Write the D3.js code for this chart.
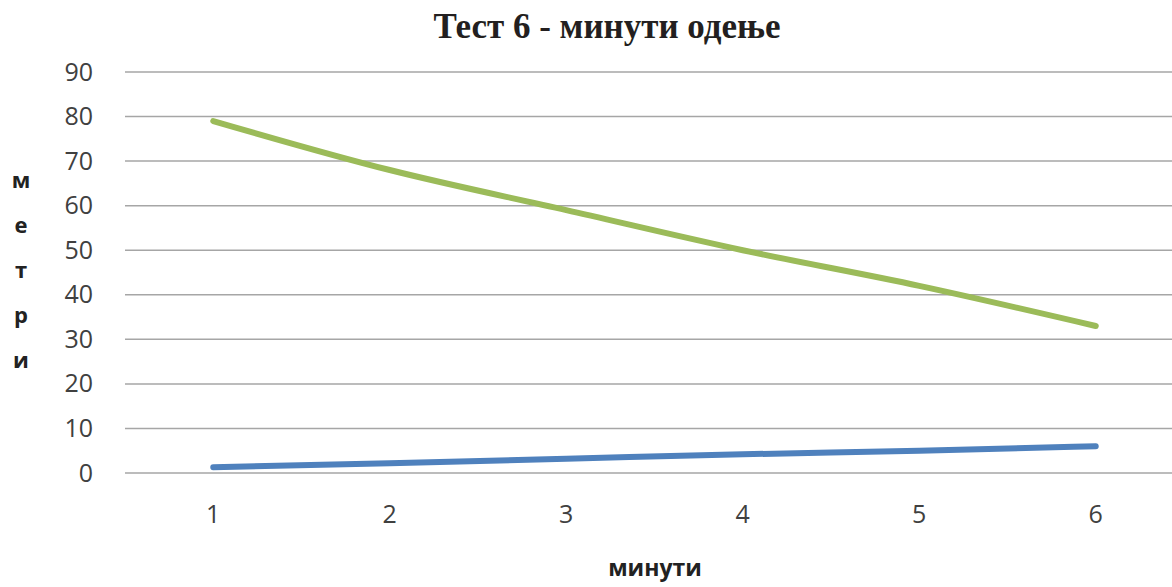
<!DOCTYPE html>
<html><head><meta charset="utf-8">
<script src="https://cdn.jsdelivr.net/npm/d3@7"></script>
<style>body{margin:0;background:#fff}</style>
</head><body>
<svg id="c" width="1172" height="587"></svg>
<script>
const categories = [1, 2, 3, 4, 5, 6];
const greenValues = [79, 68, 59, 50, 42, 33];
const blueValues = [1.3, 2.2, 3.2, 4.2, 5, 6];
const yTicks = [0, 10, 20, 30, 40, 50, 60, 70, 80, 90];
const title = "Тест 6 - минути одење";
const xTitle = "минути";
const yTitleLetters = ["м", "е", "т", "р", "и"];

const svg = d3.select("#c");
const x = d3.scaleBand().domain(categories).range([125, 1184]);
const y = d3.scaleLinear().domain([0, 90]).range([473, 72]);

svg.append("g").selectAll("line").data(yTicks).join("line")
  .attr("x1", 125).attr("x2", 1172)
  .attr("y1", d => y(d)).attr("y2", d => y(d))
  .attr("stroke", "#a6a6a6").attr("stroke-width", 1.5);

const yAxis = d3.axisLeft(y).tickValues(yTicks).tickSize(0).tickPadding(0);
const gy = svg.append("g").attr("transform", "translate(93,0)").call(yAxis);
gy.select(".domain").remove();
gy.selectAll("text").attr("font-family", "'Open Sans', sans-serif").attr("font-size", 25).attr("fill", "#404040");

const xAxis = d3.axisBottom(x).tickSize(0).tickPadding(0);
const gx = svg.append("g").attr("transform", "translate(0,505)").call(xAxis);
gx.select(".domain").remove();
gx.selectAll("text").attr("font-family", "'Open Sans', sans-serif").attr("font-size", 25).attr("fill", "#404040");

const line = d3.line().x((d, i) => x(categories[i]) + x.bandwidth() / 2).y(d => y(d)).curve(d3.curveMonotoneX);

svg.append("path").datum(greenValues).attr("d", line)
  .attr("fill", "none").attr("stroke", "#9BBB59").attr("stroke-width", 6).attr("stroke-linecap", "round");
svg.append("path").datum(blueValues).attr("d", line)
  .attr("fill", "none").attr("stroke", "#4F81BD").attr("stroke-width", 6).attr("stroke-linecap", "round");

svg.append("text").attr("x", 607).attr("y", 38).attr("text-anchor", "middle")
  .attr("font-family", "'Liberation Serif', serif").attr("font-weight", "bold").attr("font-size", 35)
  .attr("fill", "#231f20").text(title);

svg.append("text").attr("x", 655).attr("y", 576).attr("text-anchor", "middle")
  .attr("font-family", "'Open Sans', sans-serif").attr("font-weight", "bold").attr("font-size", 23)
  .attr("fill", "#222").text(xTitle);

svg.append("g").selectAll("text").data(yTitleLetters).join("text")
  .attr("x", 21).attr("y", (d, i) => 188 + i * 45).attr("text-anchor", "middle")
  .attr("font-family", "'Open Sans', sans-serif").attr("font-weight", "bold").attr("font-size", 22)
  .attr("fill", "#222").text(d => d);
</script>
</body></html>
